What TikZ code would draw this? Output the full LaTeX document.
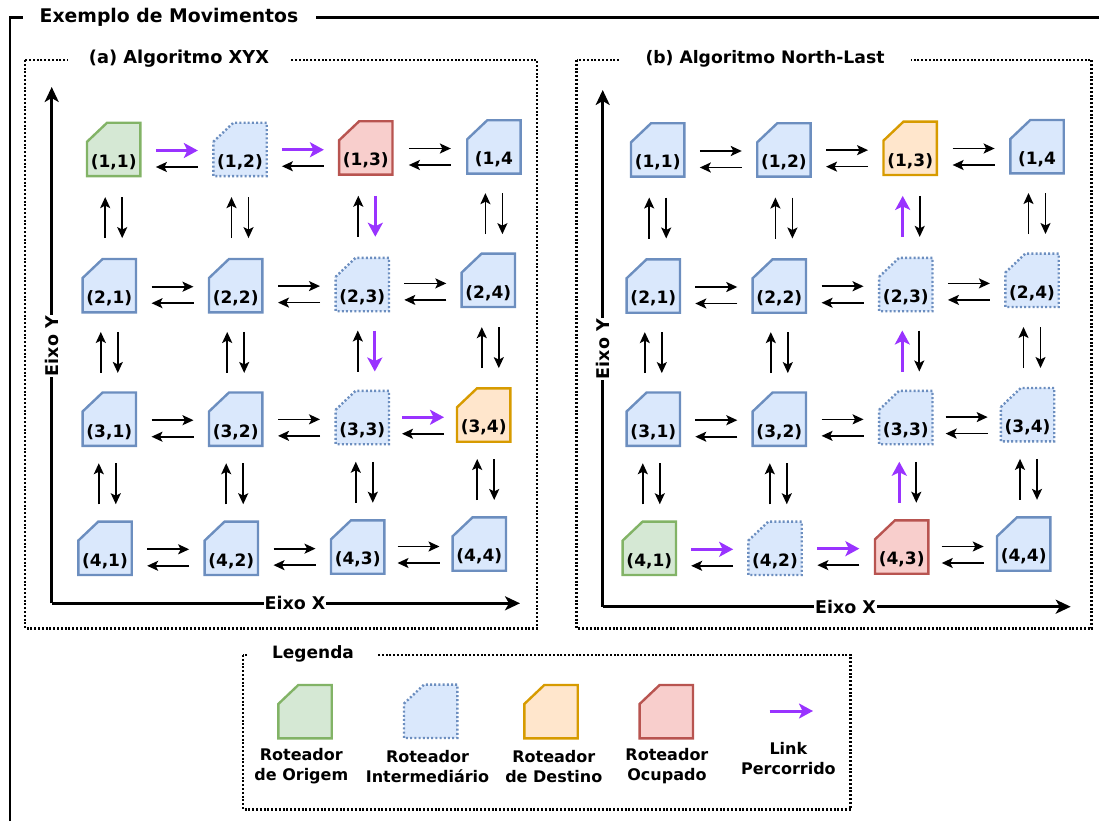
\documentclass[tikz,border=0pt]{standalone}
\usepackage{fontspec}
\setmainfont{DejaVu Sans}
\usetikzlibrary{calc,arrows.meta}

\definecolor{gfill}{HTML}{D5E8D4}\definecolor{gline}{HTML}{82B366}
\definecolor{bfill}{HTML}{DAE8FC}\definecolor{bline}{HTML}{6C8EBF}
\definecolor{ofill}{HTML}{FFE6CC}\definecolor{oline}{HTML}{D79B00}
\definecolor{rfill}{HTML}{F8CECC}\definecolor{rline}{HTML}{B85450}
\definecolor{pur}{HTML}{9933FF}

% router card: invisible box, cut-corner outline, label in the lower part
\newcommand\rtr[5]{%
  \node[rbox] (#1) at (#2,#3) {};
  \draw[#4] ($(#1.north west)+(0,19)$) -- ($(#1.north west)+(20,0)$) -- (#1.north east)
        -- (#1.south east) -- (#1.south west) -- cycle;
  \node[rlabel] (#1-t) at ($(#1.south)+(0,-14)$) {#5};
}
% pair of horizontal links: upper goes right, lower goes left
\newcommand\hlnk[4]{%
  \coordinate (hm) at ($(#1.east)!0.5!(#2.west)$);
  \draw[#3] ($(hm)+(-21,1)$) -- ($(hm)+(21,1)$);
  \draw[#4] ($(hm)+(21,17.5)$) -- ($(hm)+(-21,17.5)$);
}
% pair of vertical links: left goes up, right goes down
\newcommand\vlnk[5]{%
  \coordinate (vmm) at ($(#1.south)!0.5!(#2.north)$);
  \coordinate (vm) at (#1.south |- vmm);
  \draw[#4] ($(vm)+({#3-8.5},20.5)$) -- ($(vm)+({#3-8.5},-20.5)$);
  \draw[#5] ($(vm)+({#3+8.5},-20.5)$) -- ($(vm)+({#3+8.5},20.5)$);
}

\begin{document}
\begin{tikzpicture}[x=1pt,y=-1pt,
  rbox/.style={minimum width=53pt,minimum height=53pt,inner sep=0pt,draw=none},
  rlabel/.style={inner sep=0pt,font=\fontsize{17}{20}\selectfont\bfseries},
  rorig/.style={draw=gline,fill=gfill,line width=2.4pt},
  rnorm/.style={draw=bline,fill=bfill,line width=2.4pt},
  rmidd/.style={draw=bline,fill=bfill,line width=2.4pt,dash pattern=on 2pt off 2.2pt},
  rdest/.style={draw=oline,fill=ofill,line width=2.4pt},
  rbusy/.style={draw=rline,fill=rfill,line width=2.4pt},
  lk/.style={line width=1.7pt,-{Stealth[length=11pt,width=10pt,inset=2.5pt]}},
  pk/.style={draw=pur,line width=3pt,-{Stealth[length=14pt,width=15pt,inset=3.5pt]}},
  axis/.style={line width=2.5pt,-{Stealth[length=15pt,width=14pt,inset=4pt]}},
  frm/.style={line width=2.5pt,dash pattern=on 2pt off 1.8pt},
  ttl/.style={fill=white,inner sep=0pt,minimum height=22pt},
  axl/.style={fill=white,inner sep=1pt,font=\fontsize{17.5}{20}\selectfont\bfseries},
  lgl/.style={align=center,inner sep=0pt,font=\fontsize{16}{20.5}\selectfont\bfseries},
]
\useasboundingbox (0,0) rectangle (1099,821);

% outer group frame
\draw[line width=2.7pt] (10,821) -- (10,17.3) -- (1099,17.3);
\node[ttl,minimum width=293pt] (tmain) at (169,17)
  {\fontsize{18.8}{22}\selectfont\bfseries Exemplo de Movimentos};

% panel frames
\draw[frm] (25,60) rectangle (537,628.3);
\node[ttl,minimum width=222pt] (ta) at (179,58.5)
  {\fontsize{17.8}{20}\selectfont\bfseries (a) Algoritmo XYX};
\draw[frm] (576.7,60) rectangle (1091.7,628.3);
\node[ttl,minimum width=292pt] (tb) at (765,58.5)
  {\fontsize{17.2}{20}\selectfont\bfseries (b) Algoritmo North-Last};
\draw[frm] (243,655) rectangle (850.7,809.3);
\node[ttl,minimum width=128pt] (tl) at (313,653.5)
  {\fontsize{17}{20}\selectfont\bfseries Legenda};

% ---------- panel (a) ----------
\coordinate (ao) at (51.7,603.3);
\coordinate (ay) at (51.7,87);
\coordinate (ax) at (520,603.3);
\draw[axis] (ao) -- (ay);
\draw[axis] (ao) -- (ax);
\node[axl,rotate=90] (aylab) at (51.7,346) {Eixo Y};
\node[axl] (axlab) at (295,603.3) {Eixo X};

\rtr{a11}{113.7}{149.5}{rorig}{(1,1)}
\rtr{a12}{240}{149.5}{rmidd}{(1,2)}
\rtr{a13}{365.8}{148}{rbusy}{(1,3)}
\rtr{a14}{493.9}{147}{rnorm}{(1,4}
\rtr{a21}{109.3}{285.7}{rnorm}{(2,1)}
\rtr{a22}{235.7}{285.7}{rnorm}{(2,2)}
\rtr{a23}{362.3}{284.5}{rmidd}{(2,3)}
\rtr{a24}{488.3}{280.3}{rnorm}{(2,4)}
\rtr{a31}{109.3}{419.2}{rnorm}{(3,1)}
\rtr{a32}{235.7}{419.2}{rnorm}{(3,2)}
\rtr{a33}{362.3}{417.5}{rmidd}{(3,3)}
\rtr{a34}{483.7}{415}{rdest}{(3,4)}
\rtr{a41}{105}{548.3}{rnorm}{(4,1)}
\rtr{a42}{231.3}{548.3}{rnorm}{(4,2)}
\rtr{a43}{357.7}{547}{rnorm}{(4,3)}
\rtr{a44}{479.3}{544}{rnorm}{(4,4)}

\hlnk{a11}{a12}{pk}{lk}
\hlnk{a12}{a13}{pk}{lk}
\hlnk{a13}{a14}{lk}{lk}
\hlnk{a21}{a22}{lk}{lk}
\hlnk{a22}{a23}{lk}{lk}
\hlnk{a23}{a24}{lk}{lk}
\hlnk{a31}{a32}{lk}{lk}
\hlnk{a32}{a33}{lk}{lk}
\hlnk{a33}{a34}{pk}{lk}
\hlnk{a41}{a42}{lk}{lk}
\hlnk{a42}{a43}{lk}{lk}
\hlnk{a43}{a44}{lk}{lk}

\vlnk{a11}{a21}{0}{lk}{lk}
\vlnk{a21}{a31}{0}{lk}{lk}
\vlnk{a31}{a41}{-2}{lk}{lk}
\vlnk{a12}{a22}{0}{lk}{lk}
\vlnk{a22}{a32}{0}{lk}{lk}
\vlnk{a32}{a42}{-1}{lk}{lk}
\vlnk{a13}{a23}{1}{lk}{pk}
\vlnk{a23}{a33}{4}{lk}{pk}
\vlnk{a33}{a43}{2}{lk}{lk}
\vlnk{a14}{a24}{0}{lk}{lk}
\vlnk{a24}{a34}{2}{lk}{lk}
\vlnk{a34}{a44}{2}{lk}{lk}

% ---------- panel (b) ----------
\coordinate (bo) at (602.7,606.7);
\coordinate (by) at (602.7,90);
\coordinate (bx) at (1070.7,606.7);
\draw[axis] (bo) -- (by);
\draw[axis] (bo) -- (bx);
\node[axl,rotate=90] (bylab) at (602.7,349) {Eixo Y};
\node[axl] (bxlab) at (845.5,606.7) {Eixo X};

\rtr{b11}{657.7}{150}{rnorm}{(1,1)}
\rtr{b12}{783.9}{150}{rnorm}{(1,2)}
\rtr{b13}{910.2}{148.3}{rdest}{(1,3)}
\rtr{b14}{1037}{146.7}{rnorm}{(1,4}
\rtr{b21}{653.3}{286}{rnorm}{(2,1)}
\rtr{b22}{779.3}{286}{rnorm}{(2,2)}
\rtr{b23}{905.8}{284.5}{rmidd}{(2,3)}
\rtr{b24}{1032}{280.3}{rmidd}{(2,4)}
\rtr{b31}{653.3}{419.2}{rnorm}{(3,1)}
\rtr{b32}{779.3}{419.2}{rnorm}{(3,2)}
\rtr{b33}{905.8}{417.5}{rmidd}{(3,3)}
\rtr{b34}{1027.5}{414.7}{rmidd}{(3,4)}
\rtr{b41}{649.3}{548.3}{rorig}{(4,1)}
\rtr{b42}{775}{548.3}{rmidd}{(4,2)}
\rtr{b43}{901.7}{547}{rbusy}{(4,3)}
\rtr{b44}{1023.7}{544}{rnorm}{(4,4)}

\hlnk{b11}{b12}{lk}{lk}
\hlnk{b12}{b13}{lk}{lk}
\hlnk{b13}{b14}{lk}{lk}
\hlnk{b21}{b22}{lk}{lk}
\hlnk{b22}{b23}{lk}{lk}
\hlnk{b23}{b24}{lk}{lk}
\hlnk{b31}{b32}{lk}{lk}
\hlnk{b32}{b33}{lk}{lk}
\hlnk{b33}{b34}{lk}{lk}
\hlnk{b41}{b42}{pk}{lk}
\hlnk{b42}{b43}{pk}{lk}
\hlnk{b43}{b44}{lk}{lk}

\vlnk{b11}{b21}{0}{lk}{lk}
\vlnk{b21}{b31}{0}{lk}{lk}
\vlnk{b31}{b41}{-2}{lk}{lk}
\vlnk{b12}{b22}{0}{lk}{lk}
\vlnk{b22}{b32}{0}{lk}{lk}
\vlnk{b32}{b42}{-1}{lk}{lk}
\vlnk{b13}{b23}{1}{pk}{lk}
\vlnk{b23}{b33}{5}{pk}{lk}
\vlnk{b33}{b43}{2}{pk}{lk}
\vlnk{b14}{b24}{0}{lk}{lk}
\vlnk{b24}{b34}{0}{lk}{lk}
\vlnk{b34}{b44}{1}{lk}{lk}

% ---------- legend ----------
\node[rbox] (lg1) at (305,711.7) {};
\draw[rorig] ($(lg1.north west)+(0,19)$) -- ($(lg1.north west)+(20,0)$) -- (lg1.north east) -- (lg1.south east) -- (lg1.south west) -- cycle;
\node[rbox] (lg2) at (430.7,711.3) {};
\draw[rmidd] ($(lg2.north west)+(0,19)$) -- ($(lg2.north west)+(20,0)$) -- (lg2.north east) -- (lg2.south east) -- (lg2.south west) -- cycle;
\node[rbox] (lg3) at (551,711.7) {};
\draw[rdest] ($(lg3.north west)+(0,19)$) -- ($(lg3.north west)+(20,0)$) -- (lg3.north east) -- (lg3.south east) -- (lg3.south west) -- cycle;
\node[rbox] (lg4) at (666.3,711.7) {};
\draw[rbusy] ($(lg4.north west)+(0,19)$) -- ($(lg4.north west)+(20,0)$) -- (lg4.north east) -- (lg4.south east) -- (lg4.south west) -- cycle;
\coordinate (lga) at (769.6,711);
\coordinate (lgb) at (813,711);
\draw[pk] (lga) -- (lgb);

\node[lgl] (lt1) at (301.3,766.3) {Roteador\\de Origem};
\node[lgl] (lt2) at (427.5,766.3) {Roteador\\Intermediário};
\node[lgl] (lt3) at (553.8,766.3) {Roteador\\de Destino};
\node[lgl] (lt4) at (666.9,766.3) {Roteador\\Ocupado};
\node[lgl] (lt5) at (788.4,758.3) {Link\\Percorrido};
\end{tikzpicture}
\end{document}
